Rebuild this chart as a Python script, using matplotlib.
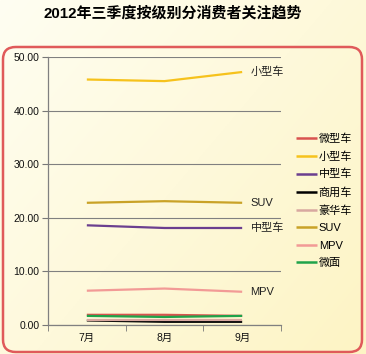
import matplotlib
matplotlib.use("Agg")
import matplotlib.pyplot as plt
import numpy as np
from matplotlib.patches import FancyBboxPatch

plt.rcParams['font.family'] = ['Liberation Sans', 'Noto Sans CJK SC', 'DejaVu Sans']

title = "2012年三季度按级别分消费者关注趋势"
months = ["7月", "8月", "9月"]
series_names = ["微型车", "小型车", "中型车", "商用车", "豪华车", "SUV", "MPV", "微面"]
v_micro = [1.9, 1.9, 1.7]
v_small = [45.8, 45.5, 47.2]
v_mid = [18.6, 18.1, 18.1]
v_comm = [0.85, 0.6, 0.6]
v_lux = [0.95, 0.95, 0.95]
v_suv = [22.8, 23.1, 22.8]
v_mpv = [6.4, 6.8, 6.2]
v_van = [1.7, 1.5, 1.7]
colors = ["#d9534f", "#f6c21c", "#6b3f8f", "#000000", "#d8a8a0", "#c9a227", "#f29a96", "#1fa34a"]
labelled = {"小型车": "小型车", "SUV": "SUV", "中型车": "中型车", "MPV": "MPV"}
yticks = [0, 10, 20, 30, 40, 50]

values = [v_micro, v_small, v_mid, v_comm, v_lux, v_suv, v_mpv, v_van]

W, H = 366, 354
fig = plt.figure(figsize=(W / 100, H / 100), dpi=100)

# background gradient
bg = fig.add_axes([0, 0, 1, 1], zorder=-10)
xx, yy = np.meshgrid(np.linspace(0, 1, 200), np.linspace(0, 1, 200))
t = np.clip(0.55 * xx + 0.45 * yy, 0, 1)
c0 = np.array([255, 254, 242]) / 255
c1 = np.array([253, 244, 196]) / 255
img = c0[None, None, :] * (1 - t[..., None]) + c1[None, None, :] * t[..., None]
bg.imshow(img, extent=[0, 1, 0, 1], aspect='auto', origin='upper')
bg.set_xlim(0, 1); bg.set_ylim(0, 1)
bg.axis('off')

# rounded red frame
box = FancyBboxPatch((3 / W, 2 / H), 359 / W, 305 / H,
                     boxstyle="round,pad=0,rounding_size=0.035",
                     transform=fig.transFigure, fill=False,
                     edgecolor="#e05a5a", linewidth=1.8, zorder=5)
fig.patches.append(box)

fig.text(173 / W, 1 - 13 / H, title, ha='center', va='center',
         fontsize=10.8, fontweight='bold',
         family=['Liberation Sans', 'Noto Sans CJK SC'])

left, right = 48 / W, 281 / W
bottom, top = (H - 325) / H, (H - 57) / H
ax = fig.add_axes([left, bottom, right - left, top - bottom])
ax.patch.set_alpha(0)

x = np.arange(len(months))
for name, vals, col in zip(series_names, values, colors):
    ax.plot(x, vals, color=col, lw=1.6, label=name, solid_capstyle='butt')
    if name in labelled:
        ax.annotate(labelled[name], (x[-1], vals[-1]), xytext=(6, 0),
                    textcoords='offset points', ha='left', va='center',
                    fontsize=8, color='#222222')

ax.set_xlim(-0.5, 2.5)
ax.set_ylim(0, 50)
ax.set_yticks(yticks)
ax.set_yticklabels([f"{v:.2f}" for v in yticks], fontsize=7.5, color='#111111')
ax.set_xticks(x)
ax.set_xticklabels(months, fontsize=7.5, color='#111111')
ax.set_xticks([-0.5, 0.5, 1.5, 2.5], minor=True)
ax.tick_params(axis='x', which='major', length=0, pad=6)
ax.tick_params(axis='x', which='minor', length=4, color='#777777')
ax.tick_params(axis='y', length=4, color='#777777', pad=2)
ax.grid(axis='y', color='#808080', lw=0.8)
ax.set_axisbelow(True)
for s in ['top', 'right']:
    ax.spines[s].set_visible(False)
for s in ['left', 'bottom']:
    ax.spines[s].set_color('#808080')
    ax.spines[s].set_linewidth(0.9)

leg = fig.legend(loc='upper left', bbox_to_anchor=(296 / W, 1 - 133 / H),
                 frameon=False, fontsize=8, handlelength=1.9, handletextpad=0.15,
                 labelspacing=0.67, borderaxespad=0, borderpad=0)
for line in leg.get_lines():
    line.set_linewidth(1.8)

fig.savefig("out.png", dpi=100)
